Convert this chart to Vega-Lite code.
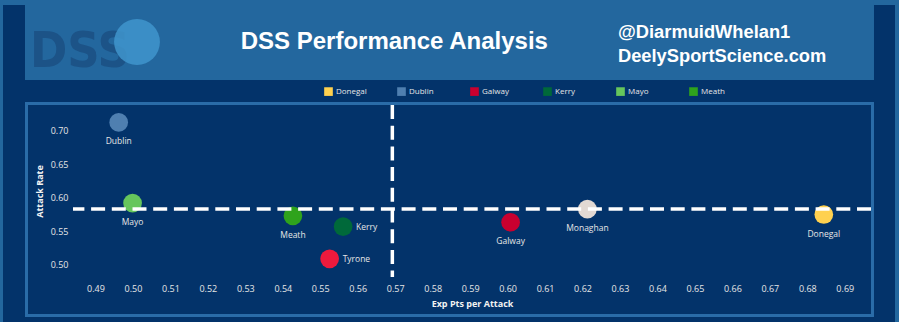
{
  "$schema": "https://vega.github.io/schema/vega-lite/v6.json",
  "width": 798,
  "height": 172,
  "autosize": "none",
  "padding": {"left": 73, "top": 105, "right": 28, "bottom": 45},
  "background": "#03336a",
  "config": {
    "view": {"stroke": null},
    "axis": {
      "zindex": 1,
      "domain": false,
      "ticks": false,
      "grid": false,
      "labelOverlap": false,
      "labelColor": "#e6e6e6",
      "labelFont": "Open Sans",
      "labelFontSize": 9,
      "titleColor": "#f2f2f2",
      "titleFont": "Open Sans",
      "titleFontSize": 9,
      "titleFontWeight": "bold"
    },
    "axisX": {
      "values": [0.49, 0.5, 0.51, 0.52, 0.53, 0.54, 0.55, 0.56, 0.57, 0.58, 0.59, 0.6, 0.61, 0.62, 0.63, 0.64, 0.65, 0.66, 0.67, 0.68, 0.69],
      "format": ".2f",
      "labelPadding": 7,
      "titlePadding": 6,
      "labelOverlap": false
    },
    "axisY": {
      "values": [0.5, 0.55, 0.6, 0.65, 0.7],
      "format": ".2f",
      "labelPadding": 5,
      "titlePadding": 6,
      "labelOverlap": false
    },
    "legend": {
      "labelColor": "#e6e6e6",
      "labelFont": "Open Sans",
      "labelFontSize": 8
    }
  },
  "datasets": {
    "teams": [
      {"team": "Donegal", "exp": 0.6844, "rate": 0.575},
      {"team": "Dublin", "exp": 0.4962, "rate": 0.712},
      {"team": "Galway", "exp": 0.6008, "rate": 0.5635},
      {"team": "Kerry", "exp": 0.5561, "rate": 0.557},
      {"team": "Mayo", "exp": 0.4999, "rate": 0.592},
      {"team": "Meath", "exp": 0.5427, "rate": 0.573},
      {"team": "Monaghan", "exp": 0.6213, "rate": 0.583},
      {"team": "Tyrone", "exp": 0.5525, "rate": 0.509}
    ],
    "decor": [
      {"part": "frame", "title": "DSS Performance Analysis", "logo": "DSS", "handle": "@DiarmuidWhelan1\nDeelySportScience.com"}
    ]
  },
  "layer": [
    {
      "data": {"name": "teams"},
      "mark": {"type": "circle", "size": 350, "opacity": 1},
      "encoding": {
        "x": {
          "field": "exp",
          "type": "quantitative",
          "scale": {"domain": [0.484, 0.697], "nice": false, "zero": false},
          "axis": {"title": "Exp Pts  per Attack", "labelOverlap": false, "tickCount": 30, "values": [0.49, 0.5, 0.51, 0.52, 0.53, 0.54, 0.55, 0.56, 0.57, 0.58, 0.59, 0.6, 0.61, 0.62, 0.63, 0.64, 0.65, 0.66, 0.67, 0.68, 0.69]}
        },
        "y": {
          "field": "rate",
          "type": "quantitative",
          "scale": {"domain": [0.482, 0.738], "nice": false, "zero": false},
          "axis": {"title": "Attack Rate", "labelOverlap": false, "tickCount": 10, "values": [0.5, 0.55, 0.6, 0.65, 0.7]}
        },
        "color": {
          "field": "team",
          "type": "nominal",
          "scale": {
            "domain": ["Donegal", "Dublin", "Galway", "Kerry", "Mayo", "Meath", "Monaghan", "Tyrone"],
            "range": ["#ffd14f", "#4f7fb0", "#c9002f", "#00693a", "#66c65c", "#2fa31c", "#e2d9d3", "#ee1a3d"]
          },
          "legend": {
            "title": null,
            "orient": "none",
            "direction": "horizontal",
            "columns": 6,
            "values": ["Donegal", "Dublin", "Galway", "Kerry", "Mayo", "Meath"],
            "symbolType": "square",
            "symbolSize": 75,
            "symbolStrokeWidth": 0,
            "labelOffset": 3,
            "gridAlign": "all",
            "columnPadding": 30,
            "padding": 0,
            "legendX": 251,
            "legendY": -18
          }
        }
      }
    },
    {
      "data": {"name": "decor"},
      "mark": {"type": "rect", "color": "#23679e"},
      "encoding": {
        "x": {"datum": 0.463181, "type": "quantitative", "axis": {"title": "Exp Pts  per Attack", "labelOverlap": false, "tickCount": 30}},
        "x2": {"datum": 0.465316},
        "y": {"datum": 0.901714, "type": "quantitative", "axis": {"title": "Attack Rate", "labelOverlap": false, "tickCount": 10}},
        "y2": {"datum": 0.4}
      }
    },
    {
      "data": {"name": "decor"},
      "mark": {"type": "rect", "color": "#23679e"},
      "encoding": {
        "x": {"datum": 0.703405, "type": "quantitative", "axis": {"title": "Exp Pts  per Attack", "labelOverlap": false, "tickCount": 30}},
        "x2": {"datum": 0.706074},
        "y": {"datum": 0.901714, "type": "quantitative", "axis": {"title": "Attack Rate", "labelOverlap": false, "tickCount": 10}},
        "y2": {"datum": 0.4}
      }
    },
    {
      "data": {"name": "decor"},
      "mark": {"type": "rect", "color": "#23679e"},
      "encoding": {
        "x": {"datum": 0.463181, "type": "quantitative", "axis": {"title": "Exp Pts  per Attack", "labelOverlap": false, "tickCount": 30}},
        "x2": {"datum": 0.706074},
        "y": {"datum": 0.901714, "type": "quantitative", "axis": {"title": "Attack Rate", "labelOverlap": false, "tickCount": 10}},
        "y2": {"datum": 0.886832}
      }
    },
    {
      "data": {"name": "decor"},
      "mark": {"type": "rect", "color": "#23679e"},
      "encoding": {
        "x": {"datum": 0.471188, "type": "quantitative", "axis": {"title": "Exp Pts  per Attack", "labelOverlap": false, "tickCount": 30}},
        "x2": {"datum": 0.6978},
        "y": {"datum": 0.894273, "type": "quantitative", "axis": {"title": "Attack Rate", "labelOverlap": false, "tickCount": 10}},
        "y2": {"datum": 0.775208}
      }
    },
    {
      "data": {"name": "decor"},
      "mark": {"type": "rect", "fillOpacity": 0, "stroke": "#2a6ca8", "strokeWidth": 3},
      "encoding": {
        "x": {"datum": 0.471588, "type": "quantitative", "axis": {"title": "Exp Pts  per Attack", "labelOverlap": false, "tickCount": 30}},
        "x2": {"datum": 0.697399},
        "y": {"datum": 0.740232, "type": "quantitative", "axis": {"title": "Attack Rate", "labelOverlap": false, "tickCount": 10}},
        "y2": {"datum": 0.424709}
      }
    },
    {
      "data": {"name": "decor"},
      "mark": {"type": "text", "align": "left", "baseline": "alphabetic", "font": "Liberation Sans Narrow, DejaVu Sans Condensed", "fontWeight": "bold", "fontSize": 50, "color": "#1c5387"},
      "encoding": {
        "x": {"datum": 0.472523, "type": "quantitative", "axis": {"title": "Exp Pts  per Attack", "labelOverlap": false, "tickCount": 30}},
        "y": {"datum": 0.794, "type": "quantitative", "axis": {"title": "Attack Rate", "labelOverlap": false, "tickCount": 10}},
        "text": {"field": "logo"}
      }
    },
    {
      "data": {"name": "decor"},
      "mark": {"type": "circle", "size": 2100, "color": "#3f95cc", "opacity": 0.85},
      "encoding": {
        "x": {"datum": 0.501083, "type": "quantitative", "axis": {"title": "Exp Pts  per Attack", "labelOverlap": false, "tickCount": 30}},
        "y": {"datum": 0.831765, "type": "quantitative", "axis": {"title": "Attack Rate", "labelOverlap": false, "tickCount": 10}}
      }
    },
    {
      "data": {"name": "decor"},
      "mark": {"type": "text", "align": "left", "baseline": "alphabetic", "font": "Liberation Sans", "fontWeight": "bold", "fontSize": 24, "color": "#ffffff"},
      "encoding": {
        "x": {"datum": 0.528762, "type": "quantitative", "axis": {"title": "Exp Pts  per Attack", "labelOverlap": false, "tickCount": 30}},
        "y": {"datum": 0.821644, "type": "quantitative", "axis": {"title": "Attack Rate", "labelOverlap": false, "tickCount": 10}},
        "text": {"field": "title"}
      }
    },
    {
      "data": {"name": "decor"},
      "mark": {"type": "text", "align": "left", "baseline": "alphabetic", "font": "Liberation Sans", "fontWeight": "bold", "fontSize": 18.3, "lineBreak": "\n", "lineHeight": 24, "color": "#ffffff"},
      "encoding": {
        "x": {"datum": 0.629469, "type": "quantitative", "axis": {"title": "Exp Pts  per Attack", "labelOverlap": false, "tickCount": 30}},
        "y": {"datum": 0.837717, "type": "quantitative", "axis": {"title": "Attack Rate", "labelOverlap": false, "tickCount": 10}},
        "text": {"field": "handle"}
      }
    },
    {
      "data": {"name": "teams"},
      "transform": [{"filter": {"not": {"field": "team", "oneOf": ["Kerry", "Tyrone"]}}}],
      "mark": {"type": "text", "dy": 19, "font": "Open Sans", "fontSize": 8.5, "color": "#e6e6e6"},
      "encoding": {
        "x": {"field": "exp", "type": "quantitative", "axis": {"title": "Exp Pts  per Attack", "labelOverlap": false, "tickCount": 30}},
        "y": {"field": "rate", "type": "quantitative", "axis": {"title": "Attack Rate", "labelOverlap": false, "tickCount": 10}},
        "text": {"field": "team"}
      }
    },
    {
      "data": {"name": "teams"},
      "transform": [{"filter": {"field": "team", "oneOf": ["Kerry", "Tyrone"]}}],
      "mark": {"type": "text", "align": "left", "dx": 13, "font": "Open Sans", "fontSize": 8.5, "color": "#e6e6e6"},
      "encoding": {
        "x": {"field": "exp", "type": "quantitative", "axis": {"title": "Exp Pts  per Attack", "labelOverlap": false, "tickCount": 30}},
        "y": {"field": "rate", "type": "quantitative", "axis": {"title": "Attack Rate", "labelOverlap": false, "tickCount": 10}},
        "text": {"field": "team"}
      }
    },
    {
      "data": {"name": "teams"},
      "mark": {"type": "rule", "color": "#ffffff", "strokeWidth": 3.5, "strokeDash": [14, 6.7]},
      "encoding": {"y": {"field": "rate", "aggregate": "mean", "type": "quantitative", "axis": {"title": "Attack Rate", "labelOverlap": false, "tickCount": 10}}}
    },
    {
      "data": {"name": "teams"},
      "mark": {"type": "rule", "color": "#ffffff", "strokeWidth": 3.5, "strokeDash": [14, 6.7]},
      "encoding": {"x": {"field": "exp", "aggregate": "mean", "type": "quantitative", "axis": {"title": "Exp Pts  per Attack", "labelOverlap": false, "tickCount": 30}}}
    }
  ]
}
